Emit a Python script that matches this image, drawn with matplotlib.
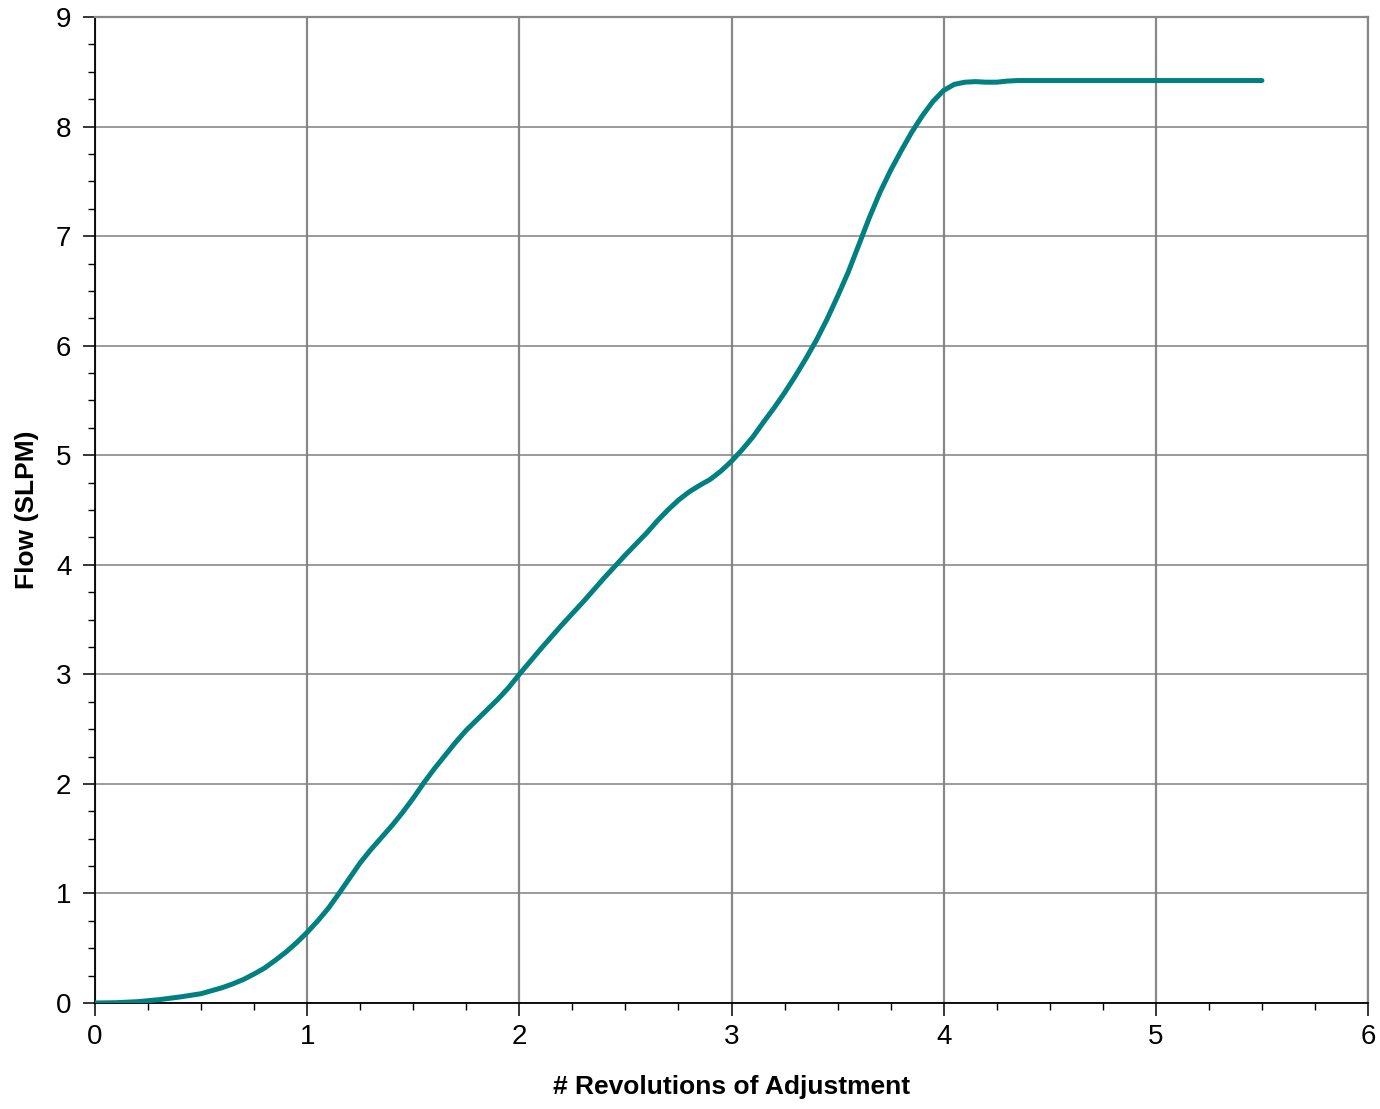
import matplotlib
matplotlib.use('Agg')
import matplotlib.pyplot as plt
from matplotlib.ticker import MultipleLocator

# values
revolutions = [0.0, 0.1, 0.2, 0.3, 0.4, 0.5, 0.6, 0.65, 0.7, 0.75,
               0.8, 0.85, 0.9, 0.95, 1.0, 1.05, 1.1, 1.15, 1.2, 1.25,
               1.3, 1.35, 1.4, 1.45, 1.5, 1.55, 1.6, 1.65, 1.7, 1.75,
               1.8, 1.85, 1.9, 1.95, 2.0, 2.1, 2.2, 2.3, 2.4, 2.5,
               2.55, 2.6, 2.65, 2.7, 2.75, 2.8, 2.85, 2.9, 2.95, 3.0,
               3.05, 3.1, 3.15, 3.2, 3.25, 3.3, 3.35, 3.4, 3.45, 3.5,
               3.55, 3.6, 3.65, 3.7, 3.75, 3.8, 3.85, 3.9, 3.95, 4.0,
               4.05, 4.1, 4.15, 4.2, 4.25, 4.3, 4.35, 4.4, 4.6, 5.0, 5.5]
flow = [0.0, 0.003, 0.012, 0.03, 0.055, 0.085, 0.14, 0.175, 0.215, 0.265,
        0.32, 0.39, 0.465, 0.55, 0.645, 0.75, 0.865, 1.0, 1.14, 1.28,
        1.4, 1.51, 1.62, 1.74, 1.87, 2.01, 2.14, 2.26, 2.38, 2.49,
        2.585, 2.68, 2.775, 2.88, 3.0, 3.23, 3.45, 3.66, 3.88, 4.09,
        4.19, 4.29, 4.4, 4.5, 4.59, 4.665, 4.725, 4.78, 4.855, 4.945,
        5.05, 5.165, 5.3, 5.43, 5.57, 5.72, 5.88, 6.05, 6.24, 6.45,
        6.67, 6.92, 7.17, 7.4, 7.6, 7.78, 7.95, 8.1, 8.23, 8.33,
        8.385, 8.405, 8.41, 8.405, 8.405, 8.415, 8.42, 8.42, 8.42, 8.42, 8.42]

plt.rcParams['font.family'] = ['Liberation Sans', 'DejaVu Sans']

fig = plt.figure(figsize=(13.8, 11.09), dpi=100)
ax = fig.add_axes([95 / 1380, 1 - 1003 / 1109, 1273 / 1380, 986 / 1109])

ax.plot(revolutions, flow, color='#008080', linewidth=3.6,
        solid_capstyle='round', solid_joinstyle='round', zorder=3)

ax.set_xlim(0, 6)
ax.set_ylim(0, 9)
ax.xaxis.set_major_locator(MultipleLocator(1))
ax.xaxis.set_minor_locator(MultipleLocator(0.25))
ax.yaxis.set_major_locator(MultipleLocator(1))
ax.yaxis.set_minor_locator(MultipleLocator(0.25))

ax.grid(True, axis='x', which='major', color='#888888', linewidth=1.6)
ax.grid(True, axis='y', which='major', color='#808080', linewidth=1.1)

for side in ['top', 'right']:
    ax.spines[side].set_color('#888888')
    ax.spines[side].set_linewidth(1.6)
for side in ['left', 'bottom']:
    ax.spines[side].set_color('black')
    ax.spines[side].set_linewidth(1.3)

ax.tick_params(which='major', direction='out', length=9, width=1.1, labelsize=20, pad=6)
ax.tick_params(which='minor', direction='out', length=5, width=1.0)
ax.tick_params(axis='y', pad=8)

ax.set_xlabel('# Revolutions of Adjustment', fontsize=19, fontweight='bold', labelpad=18)
ax.set_ylabel('Flow (SLPM)', fontsize=19, fontweight='bold', labelpad=12)

fig.savefig('out.png', dpi=100)
